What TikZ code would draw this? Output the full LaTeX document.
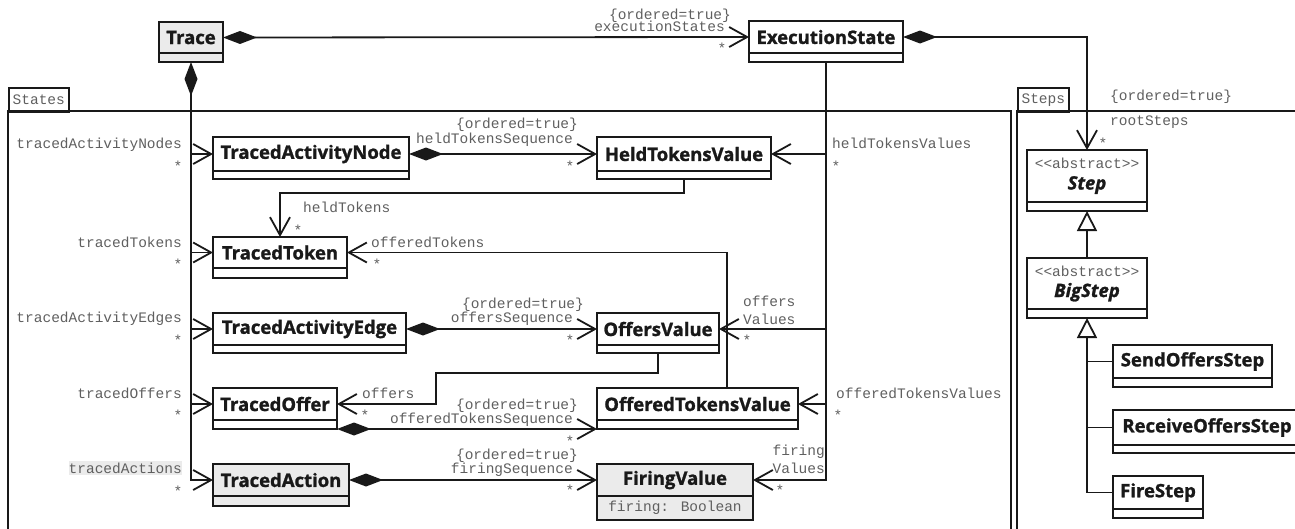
\documentclass[tikz,border=0pt]{standalone}
\usepackage{fontspec}
\newfontfamily\clsfont{Open Sans}[BoldFeatures={FakeBold=1.3},BoldItalicFeatures={FakeBold=1.3}]
\newfontfamily\lblfont{Liberation Mono}
\usetikzlibrary{arrows.meta}
\definecolor{linec}{RGB}{25,25,25}
\definecolor{labelc}{RGB}{95,95,95}
\definecolor{fillg}{RGB}{235,235,235}
\newcommand\stereo{{\lblfont\mdseries\upshape\fontsize{14.5}{17}\selectfont\color{labelc}<{}<abstract>{}>}}
\newcommand\umlclass[9]{%
 \node[clsname, fill=#7, minimum width={#4-#2}, minimum height={#5-#3}] (#1) at (#2,#3) {#8};
 \node[clscomp, fill=#7, minimum width={#4-#2}, minimum height={#6-#5}] (#1-c) at (#2,#5) {#9};
}
\tikzset{
 clsname/.style={draw=linec, line width=2pt, inner sep=0pt, outer sep=0pt, anchor=north west, align=center,
   font=\clsfont\bfseries\fontsize{18.5}{21}\selectfont, text=linec},
 clscomp/.style={draw=linec, line width=2pt, inner sep=0pt, outer sep=0pt, anchor=north west,
   font=\lblfont\fontsize{14.5}{17}\selectfont, text=labelc},
 lbl/.style={font=\lblfont\fontsize{14.5}{17}\selectfont, text=labelc, inner sep=0pt},
 lstar/.style={lbl, anchor=base},
 pkgtab/.style={draw=linec, line width=1.6pt, inner sep=0pt, anchor=north west, font=\lblfont\fontsize{14.5}{17}\selectfont, text=labelc},
 pkg/.style={draw=linec, line width=1.6pt},
 plainline/.style={draw=linec, line width=1.8pt},
 assoc/.style={plainline, -{Straight Barb[length=18pt,width=20pt]}},
 compo/.style={plainline, {Diamond[length=34pt,width=13pt]}-{Straight Barb[length=18pt,width=20pt]}},
 gen/.style={plainline, -{Triangle[length=20pt,width=20pt,fill=white]}},
}
\begin{document}
\begin{tikzpicture}[x=1pt,y=-1pt]
\useasboundingbox (0,0) rectangle (1295,528);
\clip (0,0) rectangle (1295,528);
% packages
\node[pkgtab, minimum width=60, minimum height=24] (statestab) at (8,87) {States};
\node[pkgtab, minimum width=51, minimum height=24] (stepstab) at (1017,87) {Steps};
\draw[pkg] (8,560) -- (8,111) -- (1011,111) -- (1011,560);
\draw[pkg] (1017,560) -- (1017,111) -- (1320,111);
% classes
\umlclass{trace}{159}{22}{223}{53}{62}{fillg}{Trace}{}
\umlclass{es}{749}{21}{903}{53}{62}{white}{ExecutionState}{}
\umlclass{tan}{213}{137}{409}{171}{179}{white}{TracedActivityNode}{}
\umlclass{htv}{597}{137}{771}{171}{179}{white}{HeldTokensValue}{}
\umlclass{tt}{213}{237}{347}{268}{278}{white}{TracedToken}{}
\umlclass{tae}{213}{313}{406}{345}{353}{white}{TracedActivityEdge}{}
\umlclass{ov}{597}{313}{719}{345}{353}{white}{OffersValue}{}
\umlclass{to}{213}{388}{337}{420}{429}{white}{TracedOffer}{}
\umlclass{otv}{597}{388}{798}{420}{429}{white}{OfferedTokensValue}{}
\umlclass{ta}{213}{464}{349}{496}{506}{fillg}{TracedAction}{}
\umlclass{fv}{597}{464}{753}{496}{520}{fillg}{FiringValue}{firing: Boolean}
\umlclass{step}{1027}{150}{1147}{202}{211}{white}{\stereo\\[0pt]\itshape Step}{}
\umlclass{bigstep}{1027}{258}{1147}{309}{318}{white}{\stereo\\[0pt]\itshape BigStep}{}
\umlclass{send}{1113}{345}{1272}{378}{387}{white}{SendOffersStep}{}
\umlclass{recv}{1113}{410}{1301}{445}{453}{white}{ReceiveOffersStep}{}
\umlclass{fire}{1113}{476}{1203}{509}{518}{white}{FireStep}{}
% connectors
\draw[compo] (trace.east) -- (es.west);
\draw[compo] (trace-c.south) |- (ta.west);
\foreach \n in {tan,tt,tae,to} \draw[assoc] (trace-c.south |- \n.west) -- (\n.west);
\draw[compo] (es.east) -| (step.north);
\draw[assoc] (es-c.south) |- (fv.east);
\foreach \n in {htv,ov,otv} \draw[assoc] (es-c.south |- \n.east) -- (\n.east);
\draw[compo] (tan.east) -- (htv.west);
\draw[assoc] (htv-c.south) -- ++(0,14) -| (tt.north);
\draw[assoc] ([xshift=29.5pt]otv.north) |- (tt.east);
\draw[compo] (tae.east) -- (ov.west);
\draw[assoc] (ov-c.south) -- ++(0,20) -| ([xshift=99pt]to.east) -- (to.east);
\draw[compo] (to-c.south east) -- (otv-c.south west);
\draw[compo] (ta.east) -- (fv.west);
\draw[gen] (bigstep.north) -- (step-c.south);
\draw[gen] (fire.west) -| (bigstep-c.south);
\draw[plainline] (send.west) -- (send.west -| bigstep-c.south);
\draw[plainline] (recv.west) -- (recv.west -| bigstep-c.south);
% labels
\node[lbl, anchor=mid] (l1) at (670,17) {\{ordered=true\}};
\node[lbl, anchor=mid east] (l2) at (725,29) {executionStates};
\node[lstar] (l3) at (722,53) {*};
\node[lbl, anchor=mid] (l4) at (517,126) {\{ordered=true\}};
\node[lbl, anchor=mid east] (l5) at (573,141) {heldTokensSequence};
\node[lstar] (l6) at (570,171) {*};
\node[lbl, anchor=mid west] (l7) at (1110,98) {\{ordered=true\}};
\node[lbl, anchor=mid west] (l8) at (1110,123) {rootSteps};
\node[lstar] (l9) at (1103,148) {*};
\node[lbl, anchor=mid west] (l10) at (832,146) {heldTokensValues};
\node[lstar] (l11) at (836,171) {*};
\node[lbl, anchor=mid east] (l12) at (182,146) {tracedActivityNodes};
\node[lstar] (l13) at (178,171) {*};
\node[lbl, anchor=mid west] (l14) at (303,210) {heldTokens};
\node[lstar] (l15) at (298,235) {*};
\node[lbl, anchor=mid east] (l16) at (182,245) {tracedTokens};
\node[lstar] (l17) at (178,269) {*};
\node[lbl, anchor=mid west] (l18) at (371,245) {offeredTokens};
\node[lstar] (l19) at (377,269) {*};
\node[lbl, anchor=mid east] (l20) at (182,320) {tracedActivityEdges};
\node[lstar] (l21) at (178,345) {*};
\node[lbl, anchor=mid] (l22) at (523,306) {\{ordered=true\}};
\node[lbl, anchor=mid east] (l23) at (573,320) {offersSequence};
\node[lstar] (l24) at (570,345) {*};
\node[lbl, anchor=mid west] (l25) at (743,304) {offers};
\node[lbl, anchor=mid west] (l26) at (743,322) {Values};
\node[lstar] (l27) at (747,345) {*};
\node[lbl, anchor=mid east] (l28) at (182,396) {tracedOffers};
\node[lstar] (l29) at (178,420) {*};
\node[lbl, anchor=mid west] (l30) at (362,396) {offers};
\node[lstar] (l31) at (365,420) {*};
\node[lbl, anchor=mid] (l32) at (517,407) {\{ordered=true\}};
\node[lbl, anchor=mid east] (l33) at (573,421) {offeredTokensSequence};
\node[lstar] (l34) at (570,446) {*};
\node[lbl, anchor=mid west] (l35) at (836,396) {offeredTokensValues};
\node[lstar] (l36) at (838,420) {*};
\node[lbl, anchor=mid east, fill=fillg, inner ysep=2pt] (l37) at (182,471) {tracedActions};
\node[lstar] (l38) at (178,496) {*};
\node[lbl, anchor=mid] (l39) at (517,457) {\{ordered=true\}};
\node[lbl, anchor=mid east] (l40) at (573,471) {firingSequence};
\node[lstar] (l41) at (570,495) {*};
\node[lbl, anchor=mid east] (l42) at (825,453) {firing};
\node[lbl, anchor=mid east] (l43) at (825,471) {Values};
\node[lstar] (l44) at (780,495) {*};
\end{tikzpicture}
\end{document}
